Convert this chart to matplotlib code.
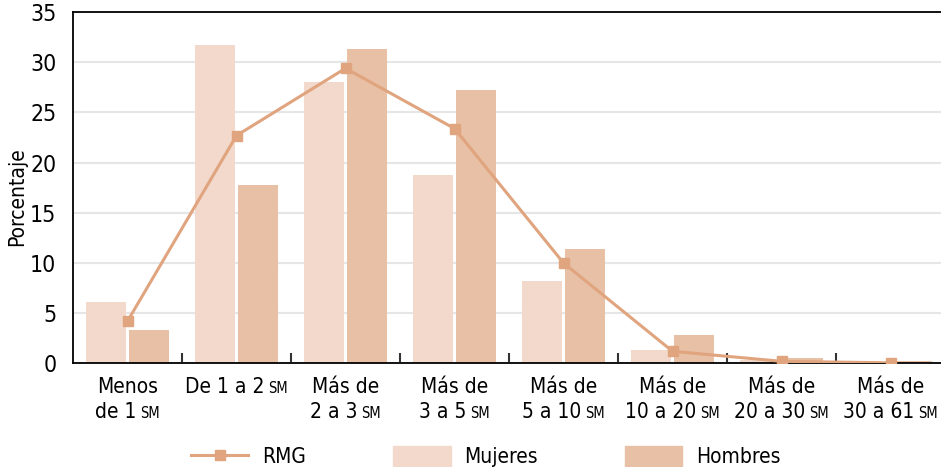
import numpy as np
import matplotlib.pyplot as plt
from matplotlib.patches import Patch
from matplotlib.lines import Line2D

plt.rcParams['font.family'] = ['DejaVu Sans']
plt.rcParams['font.stretch'] = 'condensed'

# etiquetas de categoria: linea 1 / linea 2 (el "SM" se dibuja aparte, en versalitas)
LINEA1 = ['Menos', 'De 1 a 2', 'Más de', 'Más de', 'Más de', 'Más de', 'Más de', 'Más de']
LINEA2 = ['de 1', '', '2 a 3', '3 a 5', '5 a 10', '10 a 20', '20 a 30', '30 a 61']
MUJERES = [6.1, 31.7, 28.0, 18.8, 8.2, 1.3, 0.3, 0.05]
HOMBRES = [3.3, 17.8, 31.3, 27.2, 11.4, 2.8, 0.55, 0.2]
RMG = [4.2, 22.7, 29.4, 23.4, 10.0, 1.2, 0.2, 0.05]

C_MUJ = '#F2D9CB'
C_HOM = '#E8C0A5'
C_RMG = '#E0A47E'

fig = plt.figure(figsize=(9.41, 4.67), dpi=100)
ax = fig.add_axes([73 / 941, 0.222, 872 / 941, 0.752])

x = np.arange(len(LINEA1))
ax.bar(x - 0.197, MUJERES, width=0.367, color=C_MUJ, zorder=2)
ax.bar(x + 0.197, HOMBRES, width=0.367, color=C_HOM, zorder=2)
ax.plot(x, RMG, color=C_RMG, lw=2.2, marker='s', ms=6.5, zorder=3)

ax.set_xlim(-0.5, len(LINEA1) - 0.5)
ax.set_ylim(0, 35)
ax.set_yticks(range(0, 36, 5))
ax.yaxis.grid(True, color='#E6E6E6', lw=1.5, zorder=0)
ax.set_axisbelow(True)

ax.set_xticks(x)
ax.set_xticklabels([''] * len(x))
ax.set_xticks(np.arange(0.5, len(x) - 0.5, 1), minor=True)
ax.tick_params(axis='x', which='major', length=0)
ax.tick_params(axis='x', which='minor', length=7, width=1.5, direction='in', color='#333333')
ax.tick_params(axis='y', length=0, pad=12, labelsize=16.5)

for s in ['top', 'left', 'bottom']:
    ax.spines[s].set_color('black')
    ax.spines[s].set_linewidth(1.3)
ax.spines['right'].set_visible(False)

ax.set_ylabel('Porcentaje', fontsize=15)
ax.yaxis.set_label_coords(-0.053, 0.474)

# etiquetas del eje x con "SM" mas pequeño
renderer = fig.canvas.get_renderer()
tr = ax.get_xaxis_transform()
for i in range(len(x)):
    lineas = [LINEA1[i], LINEA2[i]]
    ultima = 1 if LINEA2[i] else 0
    for k, txt in enumerate(lineas):
        if not txt:
            continue
        dy = -30 - 25 * k
        t = ax.annotate(txt, xy=(i, 0), xycoords=tr, xytext=(0, dy), textcoords='offset pixels',
                        ha='left', va='baseline', fontsize=15)
        w1 = t.get_window_extent(renderer).width
        if k == ultima:
            s = ax.annotate('SM', xy=(i, 0), xycoords=tr, xytext=(0, dy), textcoords='offset pixels',
                            ha='left', va='baseline', fontsize=10.5)
            w2 = s.get_window_extent(renderer).width
            gap = 4
            total = w1 + gap + w2
            t.xyann = (-total / 2, dy)
            s.xyann = (-total / 2 + w1 + gap, dy)
        else:
            t.xyann = (-w1 / 2, dy)

handles = [Line2D([], [], color=C_RMG, lw=2.2, marker='s', ms=6.5),
           Patch(color=C_MUJ), Patch(color=C_HOM)]
fig.legend(handles, ['RMG', 'Mujeres', 'Hombres'], loc='lower left',
           bbox_to_anchor=(191 / 941, 0.0), ncol=3, frameon=False, fontsize=15,
           handlelength=2.75, handleheight=1.05, columnspacing=4.2, handletextpad=0.65,
           borderpad=0, borderaxespad=0)

fig.savefig('out.png', dpi=100)
